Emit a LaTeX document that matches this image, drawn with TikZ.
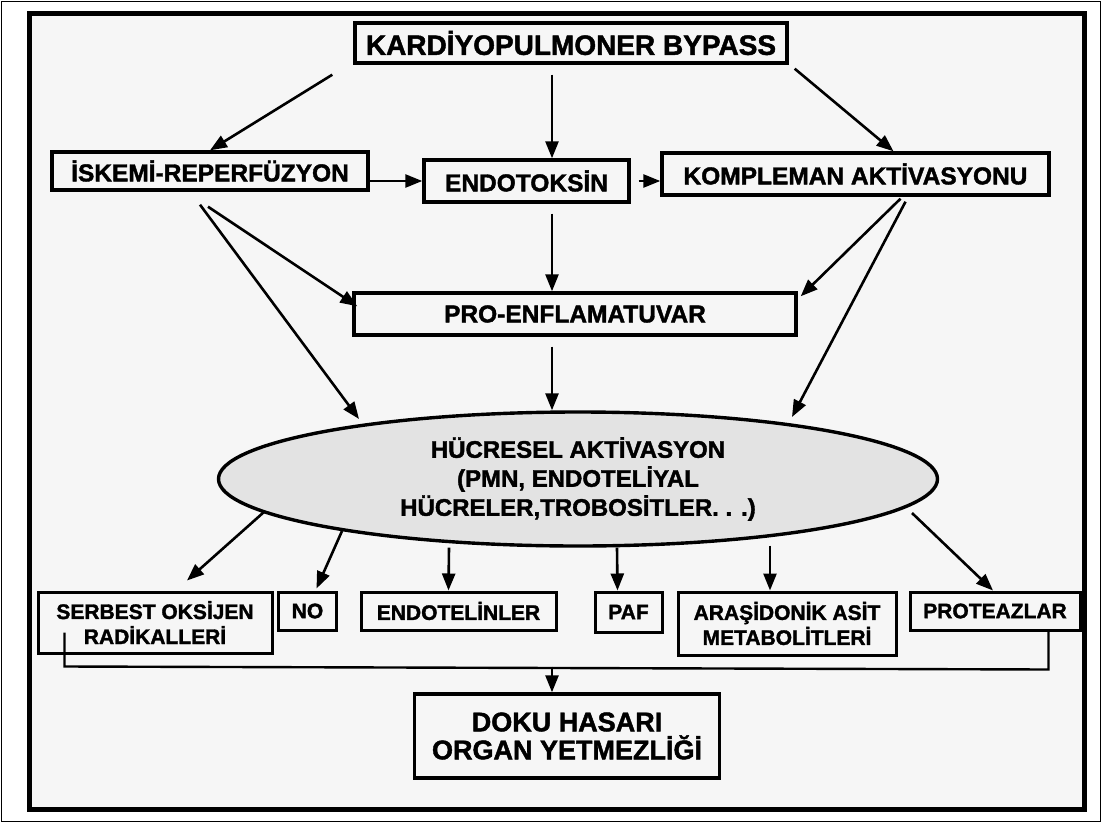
\documentclass[tikz,border=0pt]{standalone}
\usepackage{fontspec}
\setmainfont{Liberation Sans}[BoldFeatures={FakeBold=1.6}]
\usepackage{tikz}
\usetikzlibrary{shapes.geometric, arrows.meta, positioning, calc}
\definecolor{paper}{HTML}{F6F6F6}
\definecolor{cellgray}{HTML}{E3E3E3}
\tikzset{
    box/.style={draw=black, line width=3.4pt, fill=paper, align=center, inner sep=0pt, font=\bfseries\fontsize{24.5}{29}\selectfont},
    smallbox/.style={box, line width=3pt, font=\bfseries\fontsize{21}{25}\selectfont},
    cloud/.style={ellipse, draw=black, line width=3.4pt, fill=cellgray, align=center, inner sep=0pt, font=\bfseries\fontsize{24}{29}\selectfont},
    arr/.style={-{Triangle[length=17pt,width=13pt]}, line width=2.6pt},
    bracket/.style={line width=2.4pt}
}
\begin{document}
\begin{tikzpicture}[x=1pt, y=-1pt]
  \useasboundingbox (0,0) rectangle (1101,822);
  % frames
  \draw[line width=1pt, fill=white] (1,1) rectangle (1100,821);
  \draw[line width=5pt, fill=paper] (29,13) rectangle (1084,809);
  \coordinate (axis) at (552,0);

  % top row
  \node[box, minimum width=432pt, minimum height=40pt, font=\bfseries\fontsize{28}{32}\selectfont] (bypass) at (571,43) {KARDİYOPULMONER BYPASS};
  \node[box, minimum width=316pt, minimum height=38pt] (iskemi) at (210,171) {İSKEMİ-REPERFÜZYON};
  \node[box, minimum width=205pt, minimum height=42pt] (endo) at (526.5,181) {ENDOTOKSİN};
  \node[box, minimum width=387pt, minimum height=42pt] (komp) at (855.5,174) {KOMPLEMAN AKTİVASYONU};
  \node[box, minimum width=442pt, minimum height=42pt] (pro) at (575,314) {PRO-ENFLAMATUVAR};

  % cell activation
  \node[cloud, minimum width=719pt, minimum height=134pt] (hucre) at (578,479) {HÜCRESEL AKTİVASYON\\(PMN, ENDOTELİYAL\\HÜCRELER,TROBOSİTLER. . .)};

  % mediators
  \node[smallbox, minimum width=234pt, minimum height=61pt] (serbest) at (155,622.5) {SERBEST OKSİJEN\\RADİKALLERİ};
  \node[smallbox, minimum width=58pt, minimum height=38pt] (no) at (307.5,611) {NO};
  \node[smallbox, minimum width=195pt, minimum height=38pt] (endotel) at (458.5,611) {ENDOTELİNLER};
  \node[smallbox, minimum width=67pt, minimum height=40pt] (paf) at (628.5,612) {PAF};
  \node[smallbox, minimum width=218pt, minimum height=63pt] (arasi) at (787,623.5) {ARAŞİDONİK ASİT\\METABOLİTLERİ};
  \node[smallbox, minimum width=170pt, minimum height=38pt] (proteaz) at (995,611) {PROTEAZLAR};

  % result
  \node[box, minimum width=305pt, minimum height=84pt, font=\bfseries\fontsize{27}{28}\selectfont] (doku) at (567,736) {DOKU HASARI\\ORGAN YETMEZLİĞİ};

  % arrows from bypass
  \draw[arr] ($(bypass.south west)+(-21,10)$) -- (iskemi.north);
  \draw[arr, shorten <=10pt] (bypass.south -| axis) -- (endo.north -| axis);
  \draw[arr] ($(bypass.south east)+(6,4)$) -- ($(komp.north)+(38,0)$);

  % second row links
  \draw[arr] (iskemi.east |- endo.west) -- (endo.west);
  \draw[arr, shorten <=8pt] (endo.east) -- (komp.west |- endo.east);

  % to pro-enflamatuvar and cells
  \draw[arr] ($(iskemi.south)+(-2,15)$) -- ($(pro.north west)+(5,15)$);
  \draw[arr] ($(iskemi.south)+(-10,13)$) -- ($(hucre.center)+(-219,-60)$);
  \draw[arr, shorten <=10pt] (endo.south -| axis) -- (pro.north -| axis);
  \draw[arr] ($(komp.south)+(45,2)$) -- ($(pro.north east)+(3,5)$);
  \draw[arr] ($(komp.south)+(50,5)$) -- ($(hucre.center)+(214,-62)$);
  \draw[arr, shorten <=10pt] (pro.south -| axis) -- (hucre.north -| axis);

  % from cells to mediators
  \draw[arr] ($(hucre.center)+(-314,33)$) -- ($(serbest.north)+(32,-10)$);
  \draw[arr] ($(hucre.center)+(-236,52)$) -- ($(no.north)+(9,-2)$);
  \draw[arr] ($(hucre.south)+(-129,0)$) -- ($(endotel.north)+(-10,0)$);
  \draw[arr] ($(hucre.south)+(39,0)$) -- ($(paf.north)+(-11,0)$);
  \draw[arr] ($(hucre.south)+(192,-2)$) -- ($(arasi.north)+(-17,0)$);
  \draw[arr] ($(hucre.center)+(334,34)$) -- ($(proteaz.north)+(-2,0)$);

  % collecting bracket
  \coordinate (joinL) at ($(serbest.south west)+(28,12)$);
  \coordinate (joinR) at ($(proteaz.south east)+(-33,38)$);
  \draw[bracket] ($(serbest.west)+(28,10)$) -- (joinL) -- (joinR) -- (proteaz.south -| joinR);
  \draw[arr] (joinL -| axis) -- (doku.north -| axis);
\end{tikzpicture}
\end{document}
